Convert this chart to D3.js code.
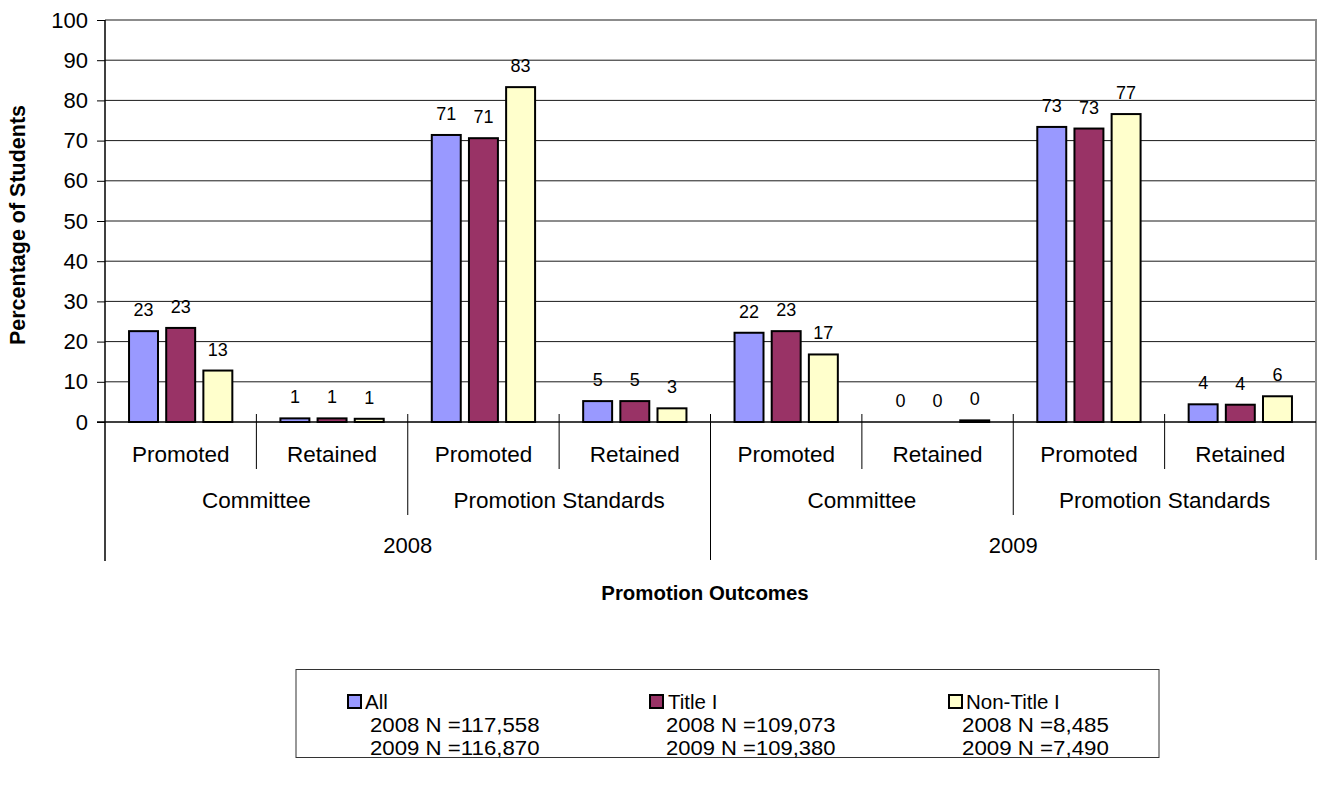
<!DOCTYPE html>
<html>
<head>
<meta charset="utf-8">
<script src="https://cdn.jsdelivr.net/npm/d3@7"></script>
<style>
  html, body { margin: 0; padding: 0; background: #fff; }
  svg { display: block; font-family: "Liberation Sans", Arial, sans-serif; }
</style>
</head>
<body>
<svg id="chart" width="1318" height="785"></svg>
<script>
// Promotion outcomes by year, decision route and outcome (percent of students)
const years = ["2008", "2009"];
const routes = ["Committee", "Promotion Standards"];
const outcomes = ["Promoted", "Retained"];
const seriesNames = ["All", "Title I", "Non-Title I"];
const seriesColors = ["#9999FF", "#993366", "#FFFFCC"];

// one value per leaf: 2008 Committee P/R, 2008 Standards P/R, 2009 Committee P/R, 2009 Standards P/R
const allValues      = [22.6, 0.9, 71.4, 5.2, 22.2, 0.0, 73.4, 4.4];
const titleIValues   = [23.4, 0.9, 70.6, 5.2, 22.6, 0.0, 73.0, 4.3];
const nonTitleValues = [12.8, 0.8, 83.3, 3.4, 16.8, 0.4, 76.6, 6.4];

const yTicks = [0, 10, 20, 30, 40, 50, 60, 70, 80, 90, 100];

const legendLines = [
  ["2008 N =117,558", "2009 N =116,870"],
  ["2008 N =109,073", "2009 N =109,380"],
  ["2008 N =8,485", "2009 N =7,490"]
];

const seriesValues = [allValues, titleIValues, nonTitleValues];

// leaf categories built from the hierarchy
const leaves = [];
years.forEach(y => routes.forEach(r => outcomes.forEach(o => leaves.push({ year: y, route: r, outcome: o, key: `${y}|${r}|${o}` }))));

const svg = d3.select("#chart");
const plotLeft = 105, plotRight = 1316, plotTop = 20, plotBottom = 422;

const x0 = d3.scaleBand().domain(leaves.map(d => d.key)).range([plotLeft, plotRight]).padding(0);
const x1 = d3.scaleBand().domain(seriesNames).range([0, x0.bandwidth()]).paddingInner(0.167).paddingOuter(0.62);
const y = d3.scaleLinear().domain([0, 100]).range([plotBottom, plotTop]);

// horizontal gridlines
svg.append("g")
  .selectAll("line")
  .data(yTicks.filter(t => t > 0 && t < 100))
  .join("line")
  .attr("x1", plotLeft).attr("x2", plotRight)
  .attr("y1", d => y(d)).attr("y2", d => y(d))
  .attr("stroke", "#1a1a1a").attr("stroke-width", 1);

// plot frame (top and right edges)
svg.append("path")
  .attr("d", `M${plotLeft},${plotTop}H${plotRight}V${plotBottom}`)
  .attr("fill", "none").attr("stroke", "#8c8c8c").attr("stroke-width", 2);

// bars
const barData = [];
leaves.forEach((leaf, i) => {
  seriesNames.forEach((s, j) => barData.push({ leaf, series: s, idx: j, value: seriesValues[j][i] }));
});

svg.append("g")
  .selectAll("rect")
  .data(barData)
  .join("rect")
  .attr("x", d => x0(d.leaf.key) + x1(d.series) + 1)
  .attr("width", x1.bandwidth() - 2)
  .attr("y", d => y(d.value))
  .attr("height", d => y(0) - y(d.value))
  .attr("fill", d => seriesColors[d.idx])
  .attr("stroke", "#000")
  .attr("stroke-width", d => d.value > 0 ? 2 : 0);

// value labels
svg.append("g")
  .selectAll("text")
  .data(barData)
  .join("text")
  .attr("x", d => x0(d.leaf.key) + x1(d.series) + x1.bandwidth() / 2)
  .attr("y", d => y(d.value) - 15)
  .attr("text-anchor", "middle")
  .attr("font-size", 18)
  .attr("fill", "#000")
  .text(d => d3.format(".0f")(d.value));

// y axis
const yAxis = d3.axisLeft(y).tickValues(yTicks).tickSize(8).tickPadding(9).tickSizeOuter(0);
const gy = svg.append("g").attr("transform", `translate(${plotLeft},0)`).call(yAxis);
gy.select(".domain").remove();
gy.selectAll(".tick line").attr("stroke", "#000").attr("stroke-width", 1);
gy.selectAll(".tick text").attr("font-size", 22).attr("fill", "#000")
  .attr("font-family", "Liberation Sans, Arial, sans-serif");

// vertical axis line extended down through the category table
svg.append("line").attr("x1", plotLeft).attr("x2", plotLeft).attr("y1", plotTop).attr("y2", 561)
  .attr("stroke", "#000").attr("stroke-width", 1.5);
// right edge continues through the category table
svg.append("line").attr("x1", plotRight).attr("x2", plotRight).attr("y1", plotBottom).attr("y2", 560)
  .attr("stroke", "#8c8c8c").attr("stroke-width", 2);

// baseline
svg.append("line").attr("x1", plotLeft - 8).attr("x2", plotRight).attr("y1", y(0)).attr("y2", y(0))
  .attr("stroke", "#000").attr("stroke-width", 1.5);

// hierarchical category axis: dividers
const dividerDepth = { leaf: 469, route: 515, year: 560 };
leaves.forEach((leaf, i) => {
  if (i === 0) return;
  const prev = leaves[i - 1];
  let y2 = dividerDepth.leaf;
  if (prev.year !== leaf.year) y2 = dividerDepth.year;
  else if (prev.route !== leaf.route) y2 = dividerDepth.route;
  svg.append("line")
    .attr("x1", x0(leaf.key)).attr("x2", x0(leaf.key))
    .attr("y1", 414).attr("y2", y2)
    .attr("stroke", "#000").attr("stroke-width", 1);
});

// leaf labels
svg.append("g").selectAll("text").data(leaves).join("text")
  .attr("x", d => x0(d.key) + x0.bandwidth() / 2)
  .attr("y", 462)
  .attr("text-anchor", "middle").attr("font-size", 22.5)
  .text(d => d.outcome);

// route labels
const routeGroups = [];
years.forEach(yr => routes.forEach(r => routeGroups.push({ year: yr, route: r })));
svg.append("g").selectAll("text").data(routeGroups).join("text")
  .attr("x", d => {
    const ks = leaves.filter(l => l.year === d.year && l.route === d.route);
    return (x0(ks[0].key) + x0(ks[ks.length - 1].key) + x0.bandwidth()) / 2;
  })
  .attr("y", 508)
  .attr("text-anchor", "middle").attr("font-size", 22.5)
  .text(d => d.route);

// year labels
svg.append("g").selectAll("text").data(years).join("text")
  .attr("x", d => {
    const ks = leaves.filter(l => l.year === d);
    return (x0(ks[0].key) + x0(ks[ks.length - 1].key) + x0.bandwidth()) / 2;
  })
  .attr("y", 553)
  .attr("text-anchor", "middle").attr("font-size", 22)
  .text(d => d);

// axis titles
svg.append("text")
  .attr("transform", `translate(25,225) rotate(-90)`)
  .attr("text-anchor", "middle").attr("font-size", 21.5).attr("font-weight", "bold")
  .text("Percentage of Students");

svg.append("text")
  .attr("x", 705).attr("y", 600)
  .attr("text-anchor", "middle").attr("font-size", 20.4).attr("font-weight", "bold")
  .text("Promotion Outcomes");

// legend
const legend = svg.append("g");
legend.append("rect")
  .attr("x", 296).attr("y", 669.5).attr("width", 863).attr("height", 88)
  .attr("fill", "#fff").attr("stroke", "#333").attr("stroke-width", 1);

const legendSwatchX = [348, 650, 949];
const legendNameX = [365, 668, 966];
const legendLineX = [370, 666, 962];
seriesNames.forEach((name, i) => {
  legend.append("rect").attr("x", legendSwatchX[i]).attr("y", 695).attr("width", 13).attr("height", 13)
    .attr("fill", seriesColors[i]).attr("stroke", "#000").attr("stroke-width", 2);
  legend.append("text").attr("x", legendNameX[i]).attr("y", 709).attr("font-size", 20.5).text(name);
  legendLines[i].forEach((line, k) => {
    legend.append("text").attr("x", legendLineX[i]).attr("y", 732 + k * 23).attr("font-size", 20.5)
      .attr("textLength", line.length * 11.3).attr("lengthAdjust", "spacingAndGlyphs").text(line);
  });
});
</script>
</body>
</html>
